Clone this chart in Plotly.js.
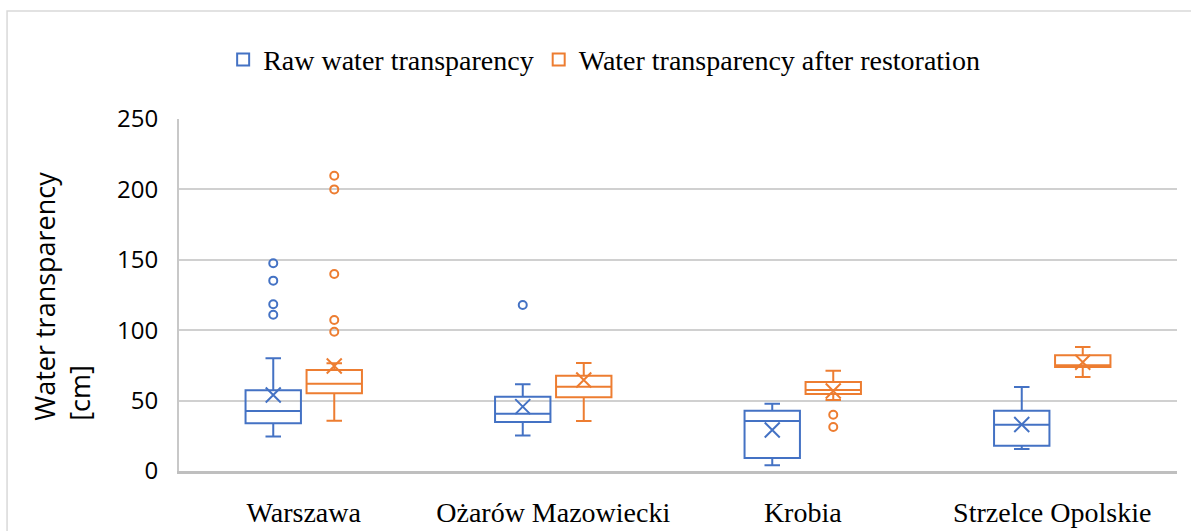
<!DOCTYPE html>
<html>
<head>
<meta charset="utf-8">
<script src="https://cdn.plot.ly/plotly-3.0.1.min.js"></script>
<style>html,body{margin:0;padding:0;background:#fff;}#chart{width:1191px;height:531px;}</style>
</head>
<body>
<div id="chart"></div>
<script>
// ---- data ----
const categories = ['Warszawa', 'Ożarów Mazowiecki', 'Krobia', 'Strzelce Opolskie'];
const seriesNames = ['Raw water transparency', 'Water transparency after restoration'];

const rawLower  = [24.5, 25.3, 4.0, 15.6];
const rawQ1     = [34.0, 34.8, 9.2, 18.0];
const rawMedian = [42.6, 40.7, 35.5, 32.9];
const rawQ3     = [57.3, 52.8, 42.8, 42.8];
const rawUpper  = [80.0, 61.6, 47.8, 59.7];
const rawMean   = [54.0, 45.7, 29.1, 33.0];
const rawOutlierCat = ['Warszawa', 'Warszawa', 'Warszawa', 'Warszawa', 'Ożarów Mazowiecki'];
const rawOutlierVal = [147.5, 135.2, 118.4, 111.0, 117.9];

const resLower  = [35.7, 35.5, 50.4, 66.8];
const resQ1     = [55.2, 52.3, 54.7, 73.9];
const resMedian = [62.0, 59.9, 57.5, 75.1];
const resQ3     = [71.7, 67.7, 63.2, 82.2];
const resUpper  = [76.5, 76.7, 71.2, 88.1];
const resMean   = [74.6, 64.6, 56.8, 77.2];
const resOutlierCat = ['Warszawa', 'Warszawa', 'Warszawa', 'Warszawa', 'Warszawa', 'Krobia', 'Krobia'];
const resOutlierVal = [209.7, 200.0, 139.9, 107.2, 98.9, 40.0, 31.3];

const yTicks = [0, 50, 100, 150, 200, 250];

// ---- styles ----
const blue = '#4472C4';
const orange = '#ED7D31';
const serif = 'Liberation Serif, serif';
const sans = 'Open Sans, sans-serif';

function boxTrace(name, color, lower, q1, med, q3, upper) {
  return {
    type: 'box', name: name, x: categories,
    lowerfence: lower, q1: q1, median: med, q3: q3, upperfence: upper,
    boxpoints: false, whiskerwidth: 0.28,
    line: {color: color, width: 2}, fillcolor: 'rgba(255,255,255,0)',
    hoverinfo: 'skip'
  };
}
function pointTrace(name, color, mean, outCat, outVal) {
  const x = categories.concat(outCat);
  const y = mean.concat(outVal);
  const sym = mean.map(() => 'x-thin-open').concat(outVal.map(() => 'circle-open'));
  const size = mean.map(() => 15).concat(outVal.map(() => 8));
  return {
    type: 'scatter', mode: 'markers', orientation: 'v', name: name, showlegend: false,
    x: x, y: y,
    marker: {symbol: sym, size: size, color: color, opacity: 1, line: {color: color, width: 2}},
    hoverinfo: 'skip'
  };
}

const data = [
  boxTrace(seriesNames[0], blue, rawLower, rawQ1, rawMedian, rawQ3, rawUpper),
  boxTrace(seriesNames[1], orange, resLower, resQ1, resMedian, resQ3, resUpper),
  pointTrace(seriesNames[0], blue, rawMean, rawOutlierCat, rawOutlierVal),
  pointTrace(seriesNames[1], orange, resMean, resOutlierCat, resOutlierVal)
];

const layout = {
  width: 1191, height: 531,
  margin: {l: 179, r: 14, t: 119, b: 60},
  paper_bgcolor: '#fff', plot_bgcolor: '#fff',
  boxmode: 'group', boxgap: 0.511, boxgroupgap: 0.092,
  scattermode: 'group', scattergap: 0.511,
  showlegend: true,
  legend: {
    orientation: 'h', x: 0.426, xanchor: 'center', y: 1.168, yanchor: 'middle',
    font: {family: serif, size: 28, color: '#000'}, itemwidth: 30,
    bgcolor: 'rgba(0,0,0,0)'
  },
  xaxis: {
    type: 'category', categoryorder: 'array', categoryarray: categories,
    showgrid: false, zeroline: false,
    showline: true, linecolor: '#bfbfbf', linewidth: 3,
    ticks: '', ticklabelstandoff: 14,
    tickfont: {family: serif, size: 28, color: '#000'}
  },
  yaxis: {
    range: [0, 250], tickmode: 'array', tickvals: yTicks, ticktext: yTicks.map(String),
    showgrid: true, gridcolor: '#d0d0d0', gridwidth: 2, zeroline: false,
    showline: true, linecolor: '#c8c8c8', linewidth: 2,
    ticks: '', ticklabelstandoff: 14,
    tickfont: {family: sans, size: 24, color: '#000'}
  },
  annotations: [{
    xref: 'paper', yref: 'paper', x: -0.1175, y: 0.497, xanchor: 'center', yanchor: 'middle',
    text: 'Water transparency<br>[cm]', textangle: -90, align: 'left', showarrow: false,
    font: {family: sans, size: 27, color: '#000'}
  }],
  shapes: [{
    type: 'rect', xref: 'paper', yref: 'paper', x0: -0.1723, x1: 1.05, y0: -0.3, y1: 1.3068,
    line: {color: '#d9d9d9', width: 1.5}, fillcolor: 'rgba(0,0,0,0)', layer: 'below'
  }]
};

Plotly.newPlot('chart', data, layout, {displayModeBar: false, staticPlot: true});
</script>
</body>
</html>
